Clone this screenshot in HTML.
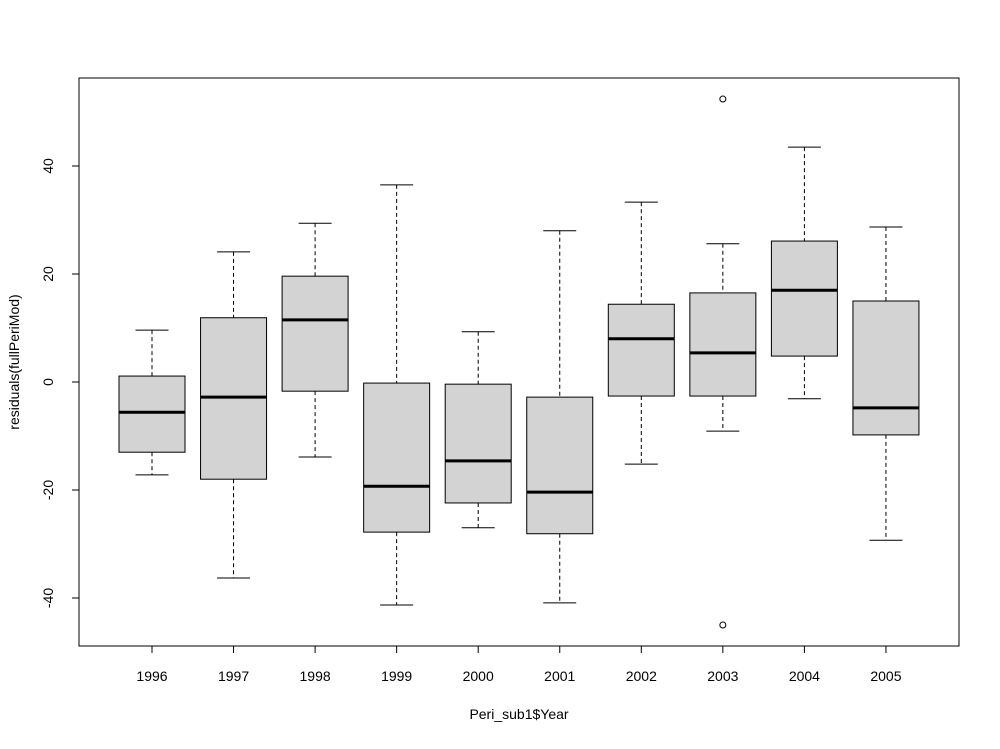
<!DOCTYPE html>
<html><head><meta charset="utf-8"><style>
body{margin:0;background:#fff}
svg text{font-family:"Liberation Sans",Arial,sans-serif;font-size:14px;fill:#000}
</style></head><body>
<svg id="c" width="1000" height="744"></svg>
<script>
const categories=["1996","1997","1998","1999","2000","2001","2002","2003","2004","2005"];
const lowWhisker=[-17.2,-36.3,-13.9,-41.3,-27,-40.9,-15.2,-9.1,-3.1,-29.3];
const q1=[-13,-18,-1.7,-27.8,-22.4,-28.1,-2.6,-2.6,4.8,-9.8];
const median=[-5.6,-2.8,11.5,-19.3,-14.6,-20.4,8,5.4,17,-4.8];
const q3=[1.1,11.9,19.6,-0.2,-0.4,-2.8,14.4,16.5,26.1,15];
const highWhisker=[9.6,24.1,29.4,36.5,9.3,28,33.3,25.6,43.5,28.7];
const outliers=[[7,52.4],[7,-45]];
const yTicks=[-40,-20,0,20,40];
const NS="http://www.w3.org/2000/svg";
const svg=document.getElementById('c');
const y=v=>382-5.4*v;
const x=i=>152+i*81.55;
function mk(t,a,p){const e=document.createElementNS(NS,t);for(const k in a)e.setAttribute(k,a[k]);(p||svg).appendChild(e);return e;}
const frame=mk('rect',{x:79,y:78,width:880,height:568,fill:'none',stroke:'#000'});


categories.forEach((c,i)=>{
 const g=mk('g',{});
 
 
 const cx=x(i),hw=33,cw=16.5;
 mk('line',{x1:cx,x2:cx,y1:y(highWhisker[i]),y2:y(q3[i]),stroke:'#000','stroke-dasharray':'4,3'},g);
 mk('line',{x1:cx,x2:cx,y1:y(q1[i]),y2:y(lowWhisker[i]),stroke:'#000','stroke-dasharray':'4,3'},g);
 mk('line',{x1:cx-cw,x2:cx+cw,y1:y(highWhisker[i]),y2:y(highWhisker[i]),stroke:'#000'},g);
 mk('line',{x1:cx-cw,x2:cx+cw,y1:y(lowWhisker[i]),y2:y(lowWhisker[i]),stroke:'#000'},g);
 mk('rect',{x:cx-hw,y:y(q3[i]),width:2*hw,height:y(q1[i])-y(q3[i]),fill:'#d3d3d3',stroke:'#000'},g);
 mk('line',{x1:cx-hw,x2:cx+hw,y1:y(median[i]),y2:y(median[i]),stroke:'#000','stroke-width':3},g);
 mk('line',{x1:cx,x2:cx,y1:646,y2:653,stroke:'#000'});
 const t=mk('text',{x:cx,y:681,'text-anchor':'middle'});t.textContent=c;
 
 
});
outliers.forEach(o=>{
 const c=mk('circle',{cx:x(o[0]),cy:y(o[1]),r:3,fill:'none',stroke:'#000'});
 
 
});
mk('line',{x1:79,x2:79,y1:y(-40),y2:y(40),stroke:'#000'});
mk('line',{x1:x(0),x2:x(9),y1:646,y2:646,stroke:'#000'});
yTicks.forEach(v=>{
 mk('line',{x1:72,x2:79,y1:y(v),y2:y(v),stroke:'#000'});
 const t=mk('text',{x:53,y:y(v),'text-anchor':'middle',transform:`rotate(-90 53 ${y(v)})`});t.textContent=v;
 
 
});
const xt=mk('text',{x:519,y:719,'text-anchor':'middle'});xt.textContent='Peri_sub1$Year';


const yt=mk('text',{x:19,y:362,'text-anchor':'middle',transform:'rotate(-90 19 362)'});yt.textContent='residuals(fullPeriMod)';


</script>
</body></html>
